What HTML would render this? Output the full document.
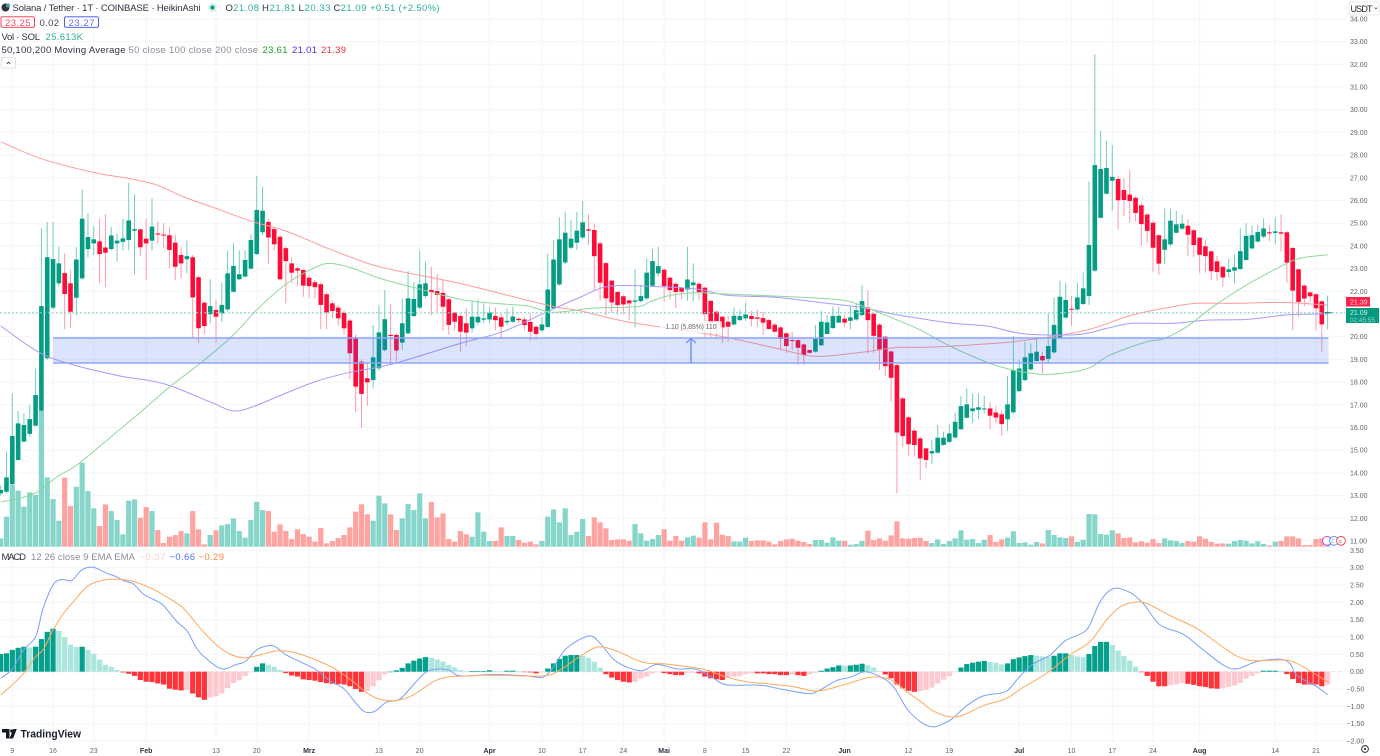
<!DOCTYPE html>
<html lang="en">
<head>
<meta charset="utf-8">
<title>Solana / Tether Heikin Ashi chart</title>
<style>
html,body{margin:0;padding:0;background:#fff;width:1380px;height:756px;overflow:hidden}
svg{display:block;font-family:"Liberation Sans",sans-serif}
</style>
</head>
<body>
<svg id="chart" xmlns="http://www.w3.org/2000/svg" width="1380" height="756" viewBox="0 0 1380 756">
  <rect x="0" y="0" width="1380" height="756" fill="#ffffff"/>
  <g id="grid"></g>
  <g id="volume"></g>
  <g id="candles"></g>
  <g id="maLines"></g>
  <line x1="0" y1="312.8" x2="1345" y2="312.8" stroke="#7fd6c6" stroke-width="1" stroke-dasharray="2 2"/>

  <g>
    <rect x="53" y="338" width="1275.5" height="25" fill="#2f5cf6" fill-opacity="0.17"/>
    <line x1="53" y1="338" x2="1328.5" y2="338" stroke="#8ea3f8" stroke-width="1.6"/>
    <line x1="53" y1="363" x2="1328.5" y2="363" stroke="#8ea3f8" stroke-width="1.6"/>
    <line x1="691" y1="339" x2="691" y2="363" stroke="#6c8ff5" stroke-width="1.4"/>
    <path d="M686 343 L691 338.5 L696 343" fill="none" stroke="#6c8ff5" stroke-width="1.2"/>
    <rect x="660" y="321" width="62" height="12" rx="2" fill="#ffffff" fill-opacity="0.75"/>
    <text x="665.5" y="329.2" font-size="7" fill="#6a6a6a" textLength="51" lengthAdjust="spacing">1.10 (5.85%) 110</text>
  </g>

  <g id="macd"></g>
  <g id="axes"></g>

  <g font-size="9.5">
    <circle cx="5.5" cy="7.5" r="4" fill="#2b3440"/>
    <circle cx="8" cy="5.5" r="2" fill="#3aa6a0"/>
    <text x="12.5" y="11" fill="#2f3340" textLength="188" lengthAdjust="spacing">Solana / Tether · 1T · COINBASE · HeikinAshi</text>
    <circle cx="212.5" cy="7.5" r="4.5" fill="#d5f0ec"/>
    <circle cx="212.5" cy="7.5" r="2" fill="#089981"/>
    <text x="225.5" y="11" fill="#2f3340">O</text>
    <text x="233" y="11" fill="#2cb09b" textLength="26" lengthAdjust="spacing">21.08</text>
    <text x="262" y="11" fill="#2f3340">H</text>
    <text x="269.5" y="11" fill="#2cb09b" textLength="26" lengthAdjust="spacing">21.81</text>
    <text x="298.5" y="11" fill="#2f3340">L</text>
    <text x="304.5" y="11" fill="#2cb09b" textLength="26" lengthAdjust="spacing">20.33</text>
    <text x="333.5" y="11" fill="#2f3340">C</text>
    <text x="340.5" y="11" fill="#2cb09b" textLength="26" lengthAdjust="spacing">21.09</text>
    <text x="370" y="11" fill="#2cb09b" textLength="69.5" lengthAdjust="spacing">+0.51 (+2.50%)</text>

    <rect x="1" y="16.8" width="33.5" height="10.5" rx="1.5" fill="#fff" stroke="#ff2d4d" stroke-width="0.9"/>
    <text x="5" y="25.8" fill="#f44a62" textLength="25.5" lengthAdjust="spacing">23.25</text>
    <text x="39.5" y="25.8" fill="#444a57" textLength="19.5" lengthAdjust="spacing">0.02</text>
    <rect x="64.5" y="16.8" width="34" height="10.5" rx="1.5" fill="#fff" stroke="#3f4ff0" stroke-width="0.9"/>
    <text x="68.5" y="25.8" fill="#6473ee" textLength="26" lengthAdjust="spacing">23.27</text>

    <text x="1.5" y="40" fill="#2f3340" textLength="38.5" lengthAdjust="spacing">Vol · SOL</text>
    <text x="45.5" y="40" fill="#2cb09b" textLength="37.5" lengthAdjust="spacing">25.613K</text>

    <text x="1.5" y="53" fill="#2f3340" textLength="124" lengthAdjust="spacing">50,100,200 Moving Average</text>
    <text x="128.5" y="53" fill="#8a8e99" textLength="129.5" lengthAdjust="spacing">50 close 100 close 200 close</text>
    <text x="262.5" y="53" fill="#1f9a2a" textLength="25" lengthAdjust="spacing">23.61</text>
    <text x="292" y="53" fill="#4a2cf0" textLength="25" lengthAdjust="spacing">21.01</text>
    <text x="321" y="53" fill="#f0303a" textLength="25" lengthAdjust="spacing">21.39</text>

    <rect x="1.3" y="57.5" width="14.4" height="10.5" rx="1.5" fill="#fff" stroke="#d5d8de" stroke-width="0.8"/>
    <path d="M6.8 64 L8.5 62 L10.2 64" fill="none" stroke="#333" stroke-width="0.8"/>
  </g>

  <g font-size="9.5">
    <text x="1.5" y="560" fill="#2f3340" textLength="24.5" lengthAdjust="spacing">MACD</text>
    <text x="31" y="560" fill="#8a8e99" textLength="104" lengthAdjust="spacing">12 26 close 9 EMA EMA</text>
    <text x="139.5" y="560" fill="#ffcdd2" textLength="26" lengthAdjust="spacing">−0.37</text>
    <text x="169.5" y="560" fill="#4f72f0" textLength="25.5" lengthAdjust="spacing">−0.66</text>
    <text x="198.5" y="560" fill="#ff8a3c" textLength="25.5" lengthAdjust="spacing">−0.29</text>
  </g>

  <g>
    <path d="M2 729 H9.5 V738.5 H6 V732.5 H2 Z" fill="#131722"/>
    <circle cx="11.8" cy="731" r="1.6" fill="#131722"/>
    <path d="M13.5 729 H16.8 L13 738.5 H9.5 Z" fill="#131722"/>
    <text x="20.5" y="737.5" font-size="11" font-weight="700" fill="#1b1f2b" textLength="60.5" lengthAdjust="spacingAndGlyphs">TradingView</text>
  </g>

  <rect x="1349" y="2" width="30" height="13" rx="1.5" fill="#fff" stroke="#e3e5ea" stroke-width="0.7"/>
  <text x="1350.5" y="12" font-size="9" fill="#222631" textLength="22" lengthAdjust="spacing">USDT</text>
  <path d="M1374.5 7.5 L1376 9 L1377.5 7.5" fill="none" stroke="#555" stroke-width="0.7"/>

  <rect x="1346" y="297" width="24" height="9.5" fill="#ff2447"/>
  <text x="1350" y="304.6" font-size="7" fill="#ffd5dc">21.39</text>
  <rect x="1346" y="308" width="33" height="15" fill="#059a80"/>
  <text x="1350" y="315" font-size="7" fill="#c8efe7">21.09</text>
  <text x="1350" y="322" font-size="6.4" fill="#8fdccd">02:45:55</text>
  <line x1="1325" y1="312.8" x2="1332" y2="312.8" stroke="#069b80" stroke-width="1"/>

  <g>
    <circle cx="1327" cy="540.8" r="4.4" fill="#fff" stroke="#c43be0" stroke-width="0.9"/>
    <circle cx="1334" cy="540.8" r="4.4" fill="#fff" stroke="#3f8cf5" stroke-width="0.9"/>
    <circle cx="1341" cy="540.8" r="4.4" fill="#fff" stroke="#f23645" stroke-width="0.9"/>
    <text x="1331" y="543" font-size="5.5" fill="#3f8cf5">ℰ</text>
    <text x="1338.5" y="543" font-size="5.5" fill="#f23645">≡</text>
  </g>

  <circle cx="1365" cy="749" r="3.4" fill="none" stroke="#444" stroke-width="1.1"/>
  <circle cx="1365" cy="749" r="1.1" fill="#444"/>
</svg>

<script>
// ---------- Candle data (Heikin Ashi), first value is two days before the "9" tick ----------
const firstDay = -2;
const opens = [
13.10,13.17,13.50,14.57,15.38,15.72,16.08,16.74,19.05,21.28,
22.35,22.80,22.35,21.72,22.57,23.86,24.11,24.20,23.93,23.86,
24.11,24.18,24.26,24.67,24.73,24.32,24.23,24.55,24.50,24.47,
24.14,23.60,23.41,23.50,22.62,21.50,20.99,21.18,21.03,21.20,
21.98,22.53,22.65,23.00,23.64,24.60,25.06,24.74,24.40,23.90,
23.23,23.01,22.94,22.60,22.40,22.31,21.87,21.47,21.28,21.06,
20.71,19.97,18.90,18.17,18.09,18.61,19.41,20.08,20.08,19.74,
20.15,20.91,21.28,21.79,22.06,22.01,21.93,21.65,21.06,20.91,
20.59,20.37,20.63,20.75,20.76,20.91,20.85,20.63,20.66,20.79,
20.76,20.65,20.44,20.28,20.43,21.25,22.30,23.27,23.92,24.14,
24.37,24.73,24.70,24.11,23.24,22.47,21.97,21.78,21.60,21.54,
21.57,21.69,22.25,22.79,22.95,22.60,22.33,22.16,22.08,22.27,
22.33,22.16,21.58,21.10,20.88,20.66,20.54,20.73,20.81,20.91,
20.85,20.82,20.73,20.53,20.41,20.15,19.85,19.85,19.66,19.41,
19.34,19.62,20.12,20.38,20.62,20.79,20.70,20.76,20.95,21.29,
21.01,20.53,20.00,19.35,18.75,17.28,16.45,15.86,15.52,15.08,
14.86,14.89,15.23,15.37,15.56,15.92,16.43,16.72,16.78,16.81,
16.84,16.66,16.58,16.36,16.67,17.60,18.09,18.56,18.93,19.15,
19.02,19.31,19.93,20.84,21.23,21.20,21.44,21.79,22.91,25.24,
26.30,26.87,26.95,26.46,26.26,26.12,25.79,25.38,25.02,24.47,
23.83,24.07,24.58,24.76,24.89,24.69,24.36,23.98,23.76,23.32,
23.08,22.85,22.91,22.98,23.38,23.89,24.19,24.41,24.60,24.57,
24.60,24.60,23.91,22.97,22.25,21.95,21.87,21.56,21.08];
const highs = [
13.45,14.93,17.50,16.73,16.62,17.00,18.60,24.77,25.05,25.06,
23.96,23.67,22.94,23.95,26.49,25.43,24.87,25.20,25.40,24.84,
24.55,25.20,26.78,26.28,24.75,25.21,26.10,25.07,25.00,24.85,
24.50,23.96,24.23,23.60,22.70,21.55,22.53,21.62,22.38,23.80,
24.14,23.80,23.80,24.50,27.08,26.61,25.20,24.84,24.50,24.00,
23.50,23.10,23.00,22.70,22.50,22.40,21.95,21.60,21.40,21.15,
20.80,20.10,19.00,18.90,20.52,21.40,22.06,21.43,20.15,21.69,
22.89,22.40,23.80,23.30,23.08,22.76,22.50,21.70,21.10,21.00,
21.25,21.54,21.64,21.47,21.32,21.29,21.03,21.25,21.32,20.85,
20.85,21.03,20.50,20.88,23.67,24.26,25.26,25.48,25.14,25.50,
25.98,25.40,24.99,24.20,23.30,22.50,22.00,21.85,21.65,22.97,
22.30,23.45,23.85,23.96,23.00,22.65,22.40,22.20,23.96,23.23,
22.40,22.20,21.60,21.15,20.90,20.90,21.29,21.20,21.50,21.14,
21.20,21.10,20.80,20.60,20.45,20.20,20.22,19.90,19.70,19.45,
20.51,21.14,20.95,21.32,21.32,20.95,21.32,21.47,22.27,22.05,
21.05,20.60,20.05,19.40,18.80,17.35,16.50,15.96,15.60,15.10,
15.45,16.11,15.81,16.14,16.65,17.38,17.72,17.50,17.50,17.38,
17.11,16.94,16.75,18.27,20.03,18.97,19.78,19.71,19.96,19.34,
21.00,21.73,22.47,22.38,21.79,22.38,22.83,26.83,32.45,29.08,
28.62,28.44,27.08,26.98,27.34,26.20,25.92,25.45,25.10,24.50,
25.65,25.65,25.55,25.36,25.18,24.77,24.40,24.26,23.80,23.55,
23.10,23.45,23.64,24.77,25.00,24.88,24.92,25.21,24.92,25.26,
25.39,24.65,23.95,23.00,22.30,22.00,21.90,21.60,21.81];
const lows = [
13.00,13.10,13.45,14.55,15.33,15.60,16.04,16.70,18.98,21.20,
22.20,20.33,20.40,20.93,22.50,23.50,23.60,22.35,22.20,23.80,
23.30,23.80,23.80,22.75,23.55,22.50,23.80,24.10,23.90,23.00,
22.50,22.57,22.80,19.97,19.71,20.12,20.59,19.74,20.66,21.10,
21.95,22.50,22.60,22.95,23.60,24.48,23.20,23.80,22.50,21.47,
22.35,22.23,21.76,21.69,21.69,20.33,20.33,20.81,20.50,20.08,
18.12,16.67,15.99,16.95,17.73,18.50,19.35,18.75,18.90,19.41,
20.10,20.85,21.20,21.70,20.96,21.10,20.25,20.08,20.27,19.34,
19.59,20.20,20.50,20.60,20.60,20.29,19.93,20.50,20.60,20.60,
20.29,19.82,19.85,20.20,20.40,21.20,22.25,23.20,23.85,23.82,
24.30,24.04,22.03,21.58,20.95,21.06,20.95,21.00,20.73,20.40,
21.50,21.60,22.20,22.64,21.54,21.64,21.25,21.64,21.58,21.58,
21.61,20.00,20.00,19.90,19.73,19.78,20.50,20.70,20.70,20.44,
20.44,20.07,20.30,20.15,19.41,19.29,19.41,18.75,18.75,19.25,
19.30,19.60,20.10,20.35,20.60,20.44,20.32,20.70,20.90,19.26,
19.26,18.53,18.27,17.14,13.10,15.15,14.76,14.76,13.68,14.20,
14.39,14.85,15.20,15.30,15.50,15.90,16.40,16.18,16.37,16.62,
15.92,16.18,15.64,15.86,16.60,17.55,18.05,18.50,18.90,18.39,
18.83,19.25,19.90,20.80,20.47,21.15,21.40,21.40,22.85,25.20,
26.25,25.55,24.74,25.33,25.02,25.07,24.00,24.14,22.86,22.72,
23.20,24.00,24.55,24.70,23.55,23.52,22.82,22.82,22.50,22.47,
22.20,22.61,22.35,22.95,23.35,23.85,24.15,24.35,24.22,24.08,
23.75,22.38,20.29,20.88,21.35,21.54,20.29,19.34,20.33];
const closes = [
13.25,13.80,15.63,16.18,16.11,16.37,17.43,21.35,23.50,23.42,
23.23,21.88,21.10,23.40,25.20,24.39,24.29,23.64,23.70,24.46,
24.23,24.33,25.12,24.74,23.94,24.11,24.85,24.50,24.46,23.82,
23.08,23.23,23.55,21.73,20.37,20.47,21.35,20.88,21.40,22.79,
23.12,22.75,23.38,24.26,25.58,25.55,24.37,24.07,22.53,23.33,
22.82,22.91,22.25,22.23,22.18,21.40,21.07,21.13,20.81,20.37,
19.27,17.80,17.48,17.99,19.09,20.19,20.77,20.03,19.39,20.59,
21.69,21.66,22.31,22.35,21.97,21.84,21.32,20.52,20.66,20.22,
20.18,20.88,20.88,20.81,21.07,20.73,20.44,20.70,20.89,20.73,
20.51,20.22,20.12,20.54,22.08,23.40,24.29,24.58,24.32,24.67,
25.04,24.67,23.55,22.38,21.69,21.51,21.39,21.42,21.47,21.60,
21.79,22.82,23.33,23.11,22.23,22.05,21.97,21.98,22.52,22.39,
21.97,21.00,20.63,20.66,20.41,20.44,20.92,20.91,20.98,20.78,
20.79,20.62,20.34,20.22,19.90,19.59,19.81,19.51,19.19,19.29,
19.90,20.66,20.63,20.91,20.92,20.62,20.85,21.17,21.57,20.73,
20.04,19.44,18.70,18.19,15.78,15.62,15.26,15.23,14.64,14.57,
14.96,15.55,15.55,15.74,16.25,16.94,17.02,16.84,16.89,16.84,
16.52,16.44,16.15,17.02,18.53,18.60,19.09,19.27,19.34,18.96,
19.59,20.52,21.76,21.62,21.19,21.73,22.13,24.04,27.56,27.39,
27.43,27.04,26.01,26.02,25.98,25.45,24.96,24.66,23.92,23.22,
24.29,25.11,24.95,24.98,24.49,24.04,23.61,23.55,22.89,22.85,
22.61,22.97,23.06,23.77,24.44,24.47,24.61,24.77,24.55,24.64,
24.54,23.26,22.03,21.53,21.68,21.78,21.25,20.54,21.09];

// ---------- Volume in thousands of SOL ----------
const volumes = [
25,90,185,168,120,163,155,408,208,143,
78,207,122,180,252,167,115,62,127,107,
80,37,138,142,87,119,107,50,11,30,
35,47,40,107,52,7,35,49,64,68,
85,47,27,80,135,110,107,45,67,47,
23,52,38,30,15,56,10,17,26,35,
58,105,127,97,78,153,130,97,50,85,
128,110,160,85,134,88,100,23,15,47,
37,30,103,45,17,17,58,32,32,20,
12,15,7,17,90,112,73,115,35,45,
83,32,88,73,55,20,22,22,18,68,
40,18,23,35,52,18,32,18,28,33,
27,73,22,72,36,32,16,15,27,17,
19,19,15,7,17,22,24,18,14,8,
20,20,12,28,18,18,6,8,17,48,
20,25,18,34,76,25,24,26,27,17,
11,22,8,17,25,49,21,23,11,21,
35,14,22,27,46,11,13,6,14,10,
50,35,28,26,31,14,21,98,97,38,
36,49,40,26,28,13,16,12,23,11,
25,19,17,11,17,15,31,24,14,9,
10,9,17,20,18,10,16,8,4,15,
17,31,31,25,5,5,23,25,22];

// ---------- Moving averages: day index and value pairs ----------
const ma200Days = [-2,4.8,13.4,20.7,24.9,29.3,34.5,40.8,46.5,51.1,54.6,62,68.3,76.9,91.9,97.5,105.6,117,122.8,131.4,137.1,141.7,147.9,152,156,161.6,172,180,185.7,192.5,199.4,203.6,210.4,218.3,226];
const ma200Values = [28.59,27.86,27.27,26.94,26.68,26.17,25.70,25.11,24.70,24.23,23.85,23.16,22.79,22.35,21.39,21.14,20.66,20.22,19.97,19.48,19.15,19.19,19.38,19.53,19.53,19.59,19.78,20.06,20.37,20.96,21.32,21.47,21.47,21.51,21.39];
const ma100Days = [-2,4.4,9.9,18.5,23.7,27.6,34.5,38,41.4,46.5,52.4,58,65.4,76.9,84.3,91.9,97.5,102.7,111.3,118.2,122.8,131.4,140,145.7,151.3,156,161.6,167.5,173.1,178.8,184,188.1,192.5,199.4,205.3,212.1,219,226];
const ma100Values = [20.47,19.34,18.80,18.27,18.06,17.80,17.07,16.73,16.92,17.46,18.05,18.43,18.80,19.70,20.22,21.10,21.73,22.23,22.20,22.08,21.83,21.73,21.47,21.29,21.00,20.80,20.59,20.47,20.15,20.07,20.12,20.37,20.59,20.59,20.73,20.76,20.96,21.01];
const ma50Days = [-2,1.3,4.4,7.7,11.1,16.3,21.9,27.1,32.3,38,42,47.2,51.7,54.6,58.5,63.2,69.5,76.9,82.6,88.4,92.9,99.8,107.3,109.6,112.5,117,122.8,131.4,141.7,145.7,151.3,156,161.1,167.5,172,177.1,181.7,185.2,188.6,195,197.7,201.8,206.3,212.1,219,221.8,226];
const ma50Values = [12.73,12.88,13.17,13.83,14.35,15.45,16.65,17.80,18.83,20.08,21.18,22.35,23.01,23.23,23.01,22.57,22.13,21.65,21.47,21.36,21.08,21.26,21.32,21.54,21.79,21.94,21.88,21.79,21.64,21.39,20.81,20.30,19.59,18.87,18.53,18.34,18.43,18.64,19.19,19.78,19.90,20.44,21.32,22.28,23.23,23.48,23.61];

// ---------- MACD ----------
const macdHist = [
.51,.53,.63,.69,.72,.70,.72,.94,1.15,1.24,
1.18,1.00,.78,.71,.72,.63,.52,.35,.20,.14,
.05,-.02,-.06,-.12,-.24,-.29,-.30,-.34,-.37,-.49,
-.52,-.54,-.53,-.63,-.74,-.81,-.74,-.71,-.63,-.47,
-.33,-.25,-.13,-.02,.14,.24,.20,.14,.05,-.04,
-.11,-.14,-.22,-.24,-.26,-.30,-.33,-.35,-.36,-.37,
-.42,-.50,-.58,-.56,-.42,-.25,-.08,.00,.04,.11,
.24,.32,.38,.42,.40,.35,.29,.19,.12,.05,
.01,.02,.02,.02,.04,.02,.01,.03,.03,.01,
-.01,-.02,-.05,-.01,.09,.24,.37,.46,.48,.48,
.46,.40,.29,.12,-.07,-.17,-.24,-.29,-.31,-.29,
-.19,-.14,-.05,-.01,-.04,-.07,-.10,-.10,-.04,-.03,
-.05,-.14,-.19,-.22,-.24,-.16,-.14,-.12,-.07,-.05,
-.05,-.05,-.07,-.07,-.10,-.10,-.07,-.10,-.12,-.07,
-.03,.03,.09,.13,.18,.17,.18,.20,.23,.19,
.12,.02,-.08,-.19,-.37,-.48,-.55,-.58,-.56,-.53,
-.46,-.34,-.23,-.13,-.01,.12,.22,.26,.29,.31,
.28,.26,.21,.24,.36,.41,.45,.48,.46,.44,
.43,.46,.53,.53,.48,.44,.42,.51,.74,.86,
.86,.77,.61,.45,.32,.15,-.01,-.12,-.29,-.42,
-.42,-.39,-.37,-.33,-.35,-.38,-.42,-.44,-.48,-.49,
-.48,-.44,-.40,-.32,-.20,-.12,-.05,.03,.03,.03,
.02,-.07,-.21,-.33,-.37,-.37,-.37,-.42,-.37];
const macdDays = [-2,0,1.9,4,5.3,7,8.5,10.2,11.9,13.9,16.2,17.6,19.1,20.8,22.5,24.2,25.9,28.2,30,31.7,33.4,36,38.5,40,42,43.7,45.1,47.1,49.4,52.3,54.6,56.9,58.6,60.3,61.5,62.6,64.3,66.6,68.9,71.2,73.5,75.2,77,82.6,88.4,91.2,93,95.2,99,101,103.8,107.9,110.7,114.2,117.6,120.5,122.8,128.5,132,136.5,138.2,141.6,144,146.5,149.1,151.4,153.7,156,158,159.4,161.4,164,166.8,169.7,171.1,173.1,175.4,178.3,180.9,184,185.2,186.9,189.2,192,194.3,197.2,201.2,204.6,208.1,210.4,213.8,217.8,219.5,220.7,224.1,226];
const macdValues = [-.19,.08,.62,1.01,1.83,2.50,2.66,2.63,2.93,3.01,2.84,2.76,2.63,2.53,2.24,2.09,1.92,1.46,1.18,.67,.37,.08,.21,.29,.63,.74,.73,.48,.29,.05,-.27,-.48,-.82,-1.13,-1.18,-1.11,-.88,-.79,-.38,0,.08,.03,-.12,-.08,-.12,-.16,.14,.67,1.03,.82,.29,.03,.21,.08,.07,-.19,-.38,-.39,-.50,-.63,-.58,-.26,-.16,0,-.14,-.43,-1.06,-1.44,-1.59,-1.54,-1.37,-.98,-.70,-.62,-.53,-.14,.22,.48,.89,1.13,1.37,2.02,2.40,2.29,1.97,1.35,1.08,.63,.19,.08,.29,.36,.24,-.10,-.43,-.66];
const signalDays = [-2,0,1.9,4,5.3,7,8.8,10.5,12.8,15.1,17.9,20.8,23.7,26.5,29.4,32.2,35.1,37.4,39.7,42,45.4,48.3,51.7,55.2,58.6,60.9,63.2,66,68.9,72.3,74.6,77,82.6,91.2,94.1,97,99.8,101.6,104.4,108.4,112.4,117,119.3,122.8,126.2,129.6,134.2,138.2,142.8,147.4,150.8,153.7,156,158.2,161.1,163.4,166.8,170.8,173.6,177.7,181.7,185.2,188,190.3,192.6,194.9,198.9,203.5,207.5,210.4,213.3,218.4,220.7,223.5,226];
const signalValues = [-.67,-.38,-.05,.43,.63,1.20,1.68,2.02,2.45,2.62,2.67,2.60,2.42,2.16,1.83,1.27,.77,.51,.40,.46,.60,.56,.37,.10,-.29,-.61,-.80,-.83,-.67,-.29,-.16,-.13,-.10,-.12,.05,.38,.67,.71,.56,.27,.22,.12,.05,-.16,-.29,-.35,-.43,-.56,-.38,-.16,-.22,-.58,-.85,-1.13,-1.30,-1.25,-.98,-.77,-.46,-.05,.48,.87,1.49,1.86,2.00,1.97,1.62,1.25,.77,.45,.32,.34,.24,-.03,-.29];

// ---------- Axis ticks ----------
const priceTicks = [34,33,32,31,30,29,28,27,26,25,24,23,22,21,20,19,18,17,16,15,14,13,12,11];
const hiddenPriceTicks = [21];
const macdTicks = [3.5,3,2.5,2,1.5,1,0.5,0,-0.5,-1,-1.5,-2];
const dateLabels = ["9","16","23","Feb","13","20","Mrz","13","20","Apr","10","17","24","Mai","8","15","22","Jun","12","19","Jul","10","17","24","Aug","14","21"];
const dateDays = [0,7,14,23,35,42,51,63,70,82,91,98,105,112,119,126,133,143,154,161,173,182,189,196,204,217,224];

// ---------- Axis functions ----------
const xOf = function(day){ return 12.3 + 5.82 * day; };
const yPrice = function(p){ return 336.7 + (20 - p) * 22.7; };
const yMacd = function(v){ return 671.7 - v * 34.67; };
const volBase = 546.7;
const yVolHeight = function(v){ return v / 3; };
const NS = 'http://www.w3.org/2000/svg';
const plotRight = 1345;

function mk(parent, tag, attrs, text){
  const el = document.createElementNS(NS, tag);
  for (const k in attrs) el.setAttribute(k, attrs[k]);
  if (text !== undefined) el.textContent = text;
  parent.appendChild(el);
  return el;
}
function smoothPath(days, values, yFn){
  const pts = days.map(function(d, i){ return [xOf(d), yFn(values[i])]; });
  let d = 'M' + pts[0][0].toFixed(1) + ' ' + pts[0][1].toFixed(1);
  for (let i = 0; i < pts.length - 1; i++){
    const p0 = pts[Math.max(i - 1, 0)], p1 = pts[i], p2 = pts[i + 1], p3 = pts[Math.min(i + 2, pts.length - 1)];
    const c1x = p1[0] + (p2[0] - p0[0]) / 6, c1y = p1[1] + (p2[1] - p0[1]) / 6;
    const c2x = p2[0] - (p3[0] - p1[0]) / 6, c2y = p2[1] - (p3[1] - p1[1]) / 6;
    d += 'C' + c1x.toFixed(1) + ' ' + c1y.toFixed(1) + ' ' + c2x.toFixed(1) + ' ' + c2y.toFixed(1) + ' ' + p2[0].toFixed(1) + ' ' + p2[1].toFixed(1);
  }
  return d;
}
function fmt(v){
  const s = Math.abs(v).toFixed(2);
  return v < 0 ? '−' + s : s;
}

const gridG = document.getElementById('grid');
const axesG = document.getElementById('axes');
const volG = document.getElementById('volume');
const candleG = document.getElementById('candles');
const maG = document.getElementById('maLines');
const macdG = document.getElementById('macd');

// ---------- Grid and axis labels ----------
priceTicks.forEach(function(p){
  const y = yPrice(p);
  const line = mk(gridG, 'line', {x1: 0, y1: y, x2: plotRight, y2: y, stroke: '#f3f5f8', 'stroke-width': 1});
  
  
  if (hiddenPriceTicks.indexOf(p) === -1) {
    const t = mk(axesG, 'text', {x: 1350, y: y + 2.5, 'font-size': 7, fill: '#5e6370'}, p.toFixed(2));
    
    
  }
});
macdTicks.forEach(function(v){
  const y = yMacd(v);
  const line = mk(gridG, 'line', {x1: 0, y1: y, x2: plotRight, y2: y, stroke: '#f3f5f8', 'stroke-width': 1});
  
  
  const t = mk(axesG, 'text', {x: v < 0 ? 1346.5 : 1350, y: y + 2.5, 'font-size': 7, fill: '#5e6370'}, fmt(v));
  
  
});
dateDays.forEach(function(day, i){
  const x = xOf(day);
  const line = mk(gridG, 'line', {x1: x, y1: 0, x2: x, y2: 742, stroke: '#f3f5f8', 'stroke-width': 1});
  
  
  const isMonth = isNaN(parseInt(dateLabels[i], 10));
  const t = mk(axesG, 'text', {x: x, y: 753, 'font-size': 7, 'text-anchor': 'middle', fill: isMonth ? '#2f3340' : '#5e6370', 'font-weight': isMonth ? 700 : 400}, dateLabels[i]);
  
  
});

// ---------- Volume ----------
volumes.forEach(function(v, k){
  const up = closes[k] >= opens[k];
  const h = yVolHeight(v);
  const bar = mk(volG, 'rect', {x: (xOf(k + firstDay) - 2.6).toFixed(2), y: (volBase - h).toFixed(2), width: 5.2, height: h.toFixed(2), fill: up ? '#86d5cb' : '#ffa3a1'});
  
  
});

// ---------- Candles ----------
opens.forEach(function(o, k){
  const c = closes[k];
  const up = c >= o;
  const x = xOf(k + firstDay);
  const wick = mk(candleG, 'line', {x1: x.toFixed(2), y1: yPrice(highs[k]).toFixed(2), x2: x.toFixed(2), y2: yPrice(lows[k]).toFixed(2), stroke: up ? '#72cdbc' : '#ff9aa8', 'stroke-width': 1});
  
  
  const top = yPrice(Math.max(o, c));
  const h = Math.max(Math.abs(yPrice(o) - yPrice(c)), 1);
  const body = mk(candleG, 'rect', {x: (x - 2.3).toFixed(2), y: top.toFixed(2), width: 4.6, height: h.toFixed(2), fill: up ? '#049c82' : '#ff0b38'});
  
  
});

// ---------- Moving average lines ----------
const ma200Line = mk(maG, 'path', {d: smoothPath(ma200Days, ma200Values, yPrice), fill: 'none', stroke: '#ff9c9c', 'stroke-width': 1});


const ma100Line = mk(maG, 'path', {d: smoothPath(ma100Days, ma100Values, yPrice), fill: 'none', stroke: '#a79bf8', 'stroke-width': 1});


const ma50Line = mk(maG, 'path', {d: smoothPath(ma50Days, ma50Values, yPrice), fill: 'none', stroke: '#90d79b', 'stroke-width': 1});



// ---------- MACD pane ----------
const zeroLine = mk(macdG, 'line', {x1: 0, y1: yMacd(0), x2: plotRight, y2: yMacd(0), stroke: '#dfe1e6', 'stroke-width': 0.8, 'stroke-dasharray': '3 3'});


macdHist.forEach(function(v, k){
  const prev = k > 0 ? macdHist[k - 1] : 0;
  const growing = Math.abs(v) >= Math.abs(prev) && v * prev >= 0;
  let color;
  if (v >= 0) color = (growing || prev < 0) ? '#04a08c' : '#abe5dd';
  else color = (growing || prev > 0) ? '#ff3339' : '#ffc9d0';
  const top = v >= 0 ? yMacd(v) : yMacd(0);
  const h = Math.max(Math.abs(yMacd(v) - yMacd(0)), 0.5);
  const bar = mk(macdG, 'rect', {x: (xOf(k + firstDay) - 2.6).toFixed(2), y: top.toFixed(2), width: 5.2, height: h.toFixed(2), fill: color});
  
  
});
const macdLine = mk(macdG, 'path', {d: smoothPath(macdDays, macdValues, yMacd), fill: 'none', stroke: '#7a9ffa', 'stroke-width': 1});


const signalLine = mk(macdG, 'path', {d: smoothPath(signalDays, signalValues, yMacd), fill: 'none', stroke: '#ffa95e', 'stroke-width': 1});


</script>
</body>
</html>
